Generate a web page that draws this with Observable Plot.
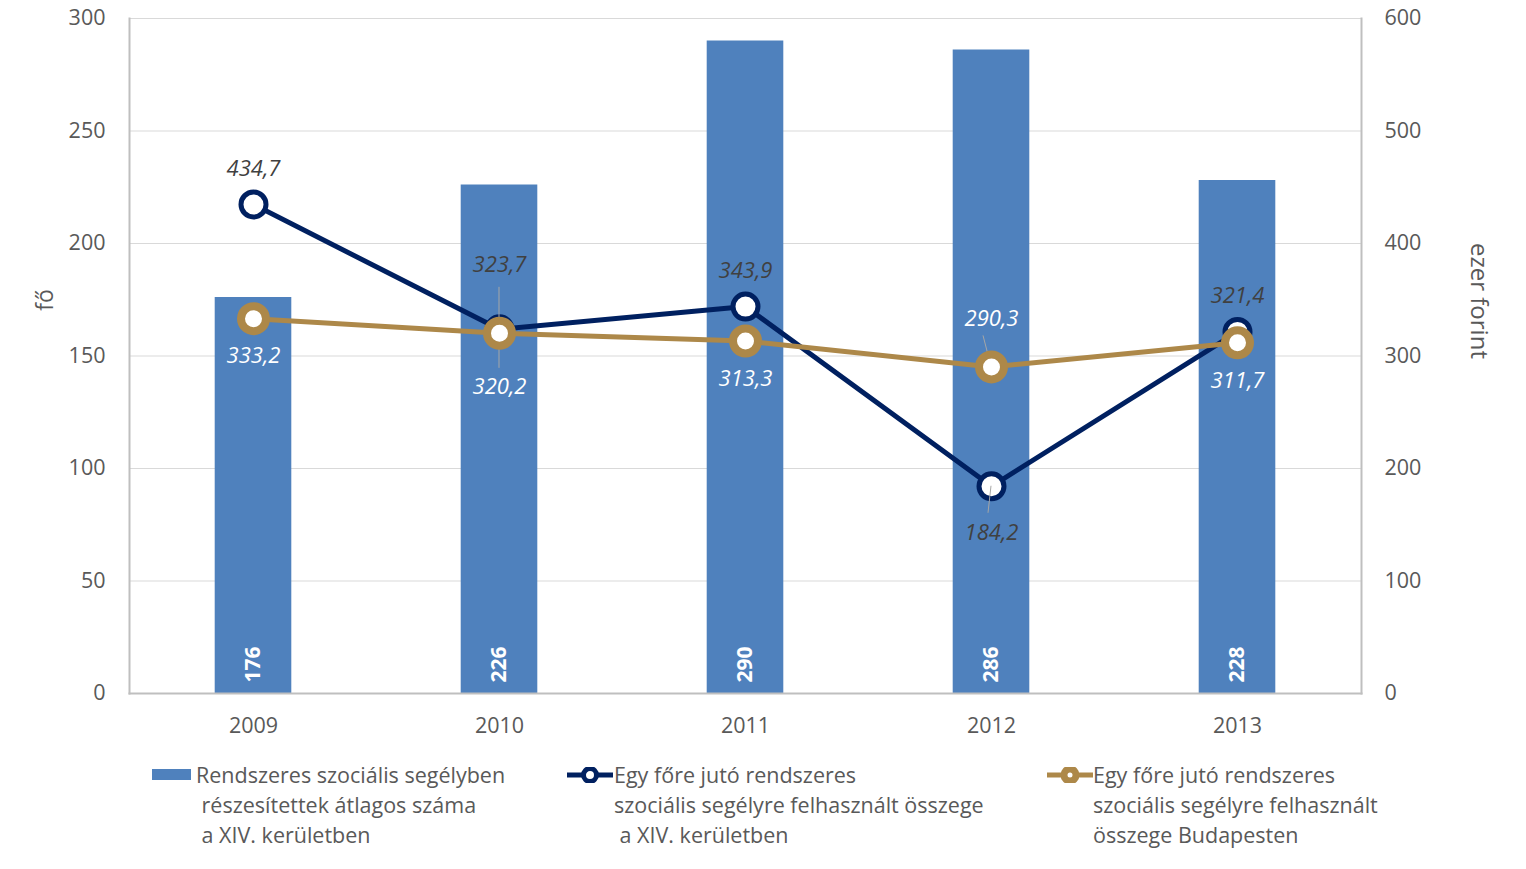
<!DOCTYPE html>
<html>
<head>
<meta charset="utf-8">
<script src="https://cdn.jsdelivr.net/npm/d3@7"></script>
<script src="https://cdn.jsdelivr.net/npm/@observablehq/plot@0.6"></script>
<style>
  html, body { margin: 0; padding: 0; background: #fff; }
  body { width: 1526px; height: 869px; overflow: hidden; font-family: "Open Sans", "Noto Sans", sans-serif; }
  #chart svg { display: block; }
  .legend { position: relative; height: 119px; color: #595959; font-size: 21.5px; line-height: 30px; }
  .item { position: absolute; top: 10px; white-space: pre; }
  .item svg { position: absolute; top: 7px; }
</style>
</head>
<body>
<div id="chart"></div>
<div class="legend" id="legend"></div>
<script>
// ---- data ----
const years = ["2009", "2010", "2011", "2012", "2013"];
const recipients = [176, 226, 290, 286, 228];            // fő (left axis)
const perCapitaXIV = [434.7, 323.7, 343.9, 184.2, 321.4]; // ezer forint (right axis)
const perCapitaBp = [333.2, 320.2, 313.3, 290.3, 311.7];  // ezer forint (right axis)
const leftTicks = [0, 50, 100, 150, 200, 250, 300];
const seriesNames = [
  "Rendszeres szociális segélyben\n részesítettek átlagos száma\n a XIV. kerületben",
  "Egy főre jutó rendszeres\nszociális segélyre felhasznált összege\n a XIV. kerületben",
  "Egy főre jutó rendszeres\nszociális segélyre felhasznált\nösszege Budapesten"
];
// label placement (screen offsets, px)
const xivLabelDy = [-36, -64, -36, 47, -36];
const bpLabelDy = [37, 54, 38, -48, 38];
// leader lines: [series, index, dx1, dy1, dx2, dy2] relative to the point
const leaders = [
  ["xiv", 1, 0, -42, 0, 39],
  ["bp", 3, -8, -31, 0, 0],
  ["xiv", 3, 0, 0, -3, 27]
];

// ---- colors ----
const barColor = "#4F81BD";
const navy = "#002060";
const gold = "#AD8849";

const bars = years.map((y, i) => ({year: y, value: recipients[i]}));
const xiv = years.map((y, i) => ({year: y, value: perCapitaXIV[i], y2: perCapitaXIV[i] / 2, dy: xivLabelDy[i]}));
const bp = years.map((y, i) => ({year: y, value: perCapitaBp[i], y2: perCapitaBp[i] / 2, dy: bpLabelDy[i]}));
const seriesByName = {xiv, bp};
const fmt = v => v.toFixed(1).replace(".", ",");

const W = 1526, H = 750;
const ml = 129, mr = 165, mt = 18, mb = 57;
const step = (W - ml - mr) / years.length;
const barW = 77;
const inset = (step - barW) / 2;

const labelFont = 22;

// custom mark: thin leader lines from labels to points
function leaderMark(index, scales, values, dimensions, context) {
  const g = d3.create("svg:g");
  const bw = scales.x.bandwidth ? scales.x.bandwidth() : 0;
  for (const [s, i, dx1, dy1, dx2, dy2] of leaders) {
    const d = seriesByName[s][i];
    const cx = scales.x(d.year) + bw / 2;
    const cy = scales.y(d.y2);
    g.append("line")
      .attr("x1", cx + dx1).attr("y1", cy + dy1)
      .attr("x2", cx + dx2).attr("y2", cy + dy2)
      .attr("stroke", "#a6a6a6").attr("stroke-width", 1);
  }
  return g.node();
}

const marks = [
  Plot.gridY(leftTicks, {stroke: "#d9d9d9", strokeOpacity: 1, strokeWidth: 1}),
  Plot.barY(bars, {x: "year", y: "value", fill: barColor, insetLeft: inset, insetRight: inset}),
  Plot.text(bars, {x: "year", y: 0, text: d => String(d.value), rotate: -90, textAnchor: "start", lineAnchor: "middle", dy: -11, fill: "white", fontWeight: "bold", fontSize: 21}),
  Plot.line(xiv, {x: "year", y: "y2", stroke: navy, strokeWidth: 5}),
  Plot.dot(xiv, {x: "year", y: "y2", r: 12.5, stroke: navy, strokeWidth: 5, fill: "white"}),
  leaderMark,
  Plot.line(bp, {x: "year", y: "y2", stroke: gold, strokeWidth: 5}),
  Plot.dot(bp, {x: "year", y: "y2", r: 12.5, stroke: gold, strokeWidth: 8, fill: "white"}),
];
xiv.forEach(d => marks.push(Plot.text([d], {x: "year", y: "y2", text: d => fmt(d.value), dy: d.dy, fill: "#404040", fontStyle: "italic", fontSize: labelFont})));
bp.forEach(d => marks.push(Plot.text([d], {x: "year", y: "y2", text: d => fmt(d.value), dy: d.dy, fill: "white", fontStyle: "italic", fontSize: labelFont})));

marks.push(
  Plot.axisY(leftTicks, {anchor: "left", tickSize: 0, tickPadding: 24, fontSize: 21.5, color: "#595959", label: null}),
  Plot.axisY(leftTicks, {anchor: "right", tickSize: 0, tickPadding: 23, fontSize: 21.5, color: "#595959", label: null, tickFormat: d => String(d * 2)}),
  Plot.axisX({tickSize: 0, tickPadding: 24, fontSize: 21.5, color: "#595959", label: null}),
  Plot.frame({stroke: "#bfbfbf", strokeWidth: 2, anchor: "left"}),
  Plot.frame({stroke: "#bfbfbf", strokeWidth: 2, anchor: "right"}),
  Plot.frame({stroke: "#bfbfbf", strokeWidth: 2, anchor: "bottom"}),
  Plot.text(["fő"], {frameAnchor: "left", textAnchor: "middle", dx: -84, dy: -56, rotate: -90, fontSize: 23, fill: "#595959"}),
  Plot.text(["ezer forint"], {frameAnchor: "right", textAnchor: "middle", dx: 117, dy: -55, rotate: 90, fontSize: 24, fill: "#595959"})
);

const chart = Plot.plot({
  width: W, height: H,
  marginLeft: ml, marginRight: mr, marginTop: mt, marginBottom: mb,
  style: {fontFamily: "'Open Sans', 'Noto Sans', sans-serif", background: "white", overflow: "visible"},
  x: {type: "band", domain: years, padding: 0, axis: null},
  y: {domain: [0, 300], axis: null},
  marks
});
document.getElementById("chart").appendChild(chart);

// ---- legend ----
const legend = document.getElementById("legend");
const legendX = [152, 567, 1047];
const swatch = [
  `<svg width="40" height="14"><rect x="0" y="2" width="39" height="11" fill="${barColor}"/></svg>`,
  `<svg width="46" height="16"><line x1="0" y1="8" x2="46" y2="8" stroke="${navy}" stroke-width="5"/><circle cx="23" cy="8" r="6.5" fill="white" stroke="${navy}" stroke-width="5"/></svg>`,
  `<svg width="46" height="16"><line x1="0" y1="8" x2="46" y2="8" stroke="${gold}" stroke-width="5"/><circle cx="23" cy="8" r="6" fill="white" stroke="${gold}" stroke-width="7"/></svg>`
];
const textOffset = [44, 47, 46];
seriesNames.forEach((name, i) => {
  const div = document.createElement("div");
  div.className = "item";
  div.style.left = legendX[i] + "px";
  div.innerHTML = swatch[i] + `<span style="position:absolute;left:${textOffset[i]}px;top:0;">${name}</span>`;
  legend.appendChild(div);
});
</script>
</body>
</html>
